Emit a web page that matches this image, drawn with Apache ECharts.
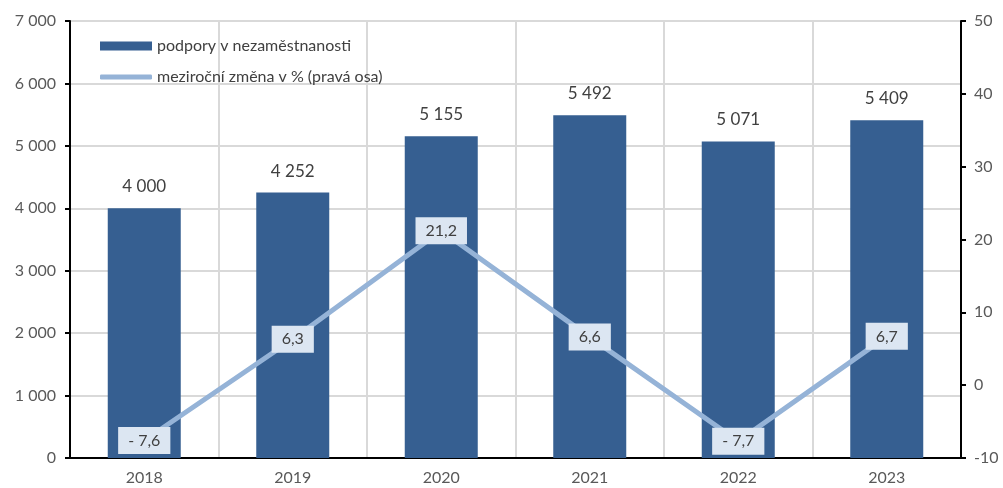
<!DOCTYPE html>
<html>
<head>
<meta charset="utf-8">
<script src="https://cdn.jsdelivr.net/npm/echarts@6/dist/echarts.min.js"></script>
<style>
  html, body { margin: 0; padding: 0; background: #fff; }
  #main { width: 1003px; height: 488px; }
</style>
</head>
<body>
<div id="main"></div>
<script>
const years = ['2018', '2019', '2020', '2021', '2022', '2023'];
const support = [4000, 4252, 5155, 5492, 5071, 5409];
const change = [-7.6, 6.3, 21.2, 6.6, -7.7, 6.7];
const barName = 'podpory v nezaměstnanosti';
const lineName = 'meziroční změna v % (pravá osa)';

const font = 'Lato, "Noto Sans", sans-serif';

const thousands = (v) => String(v).replace(/\B(?=(\d{3})+(?!\d))/g, ' ');
const pct = (v) => (v < 0 ? '- ' + String(-v) : String(v)).replace('.', ',');

const myChart = echarts.init(document.getElementById('main'));
myChart.setOption({
  animation: false,
  textStyle: { fontFamily: font },
  grid: { left: 70, right: 42, top: 21, bottom: 30 },
  legend: [
    {
      data: [{ name: barName, icon: 'rect' }],
      left: 95, top: 33,
      itemWidth: 52, itemHeight: 9, itemGap: 4,
      textStyle: { fontFamily: font, fontSize: 16, color: '#404040', padding: [0, 0, 0, 0] },
    },
    {
      data: [{ name: lineName, icon: 'roundRect' }],
      left: 95, top: 64,
      itemWidth: 52, itemHeight: 5,
      textStyle: { fontFamily: font, fontSize: 16, color: '#404040', padding: [0, 0, 0, 0] },
    },
  ],
  xAxis: {
    type: 'category',
    data: years,
    axisLine: { lineStyle: { color: '#000', width: 2 } },
    axisTick: { show: false },
    splitLine: { show: true, interval: 0, lineStyle: { color: '#d9d9d9', width: 2 } },
    axisLabel: { color: '#595959', fontSize: 16, margin: 12, fontFamily: font },
  },
  yAxis: [
    {
      type: 'value', min: 0, max: 7000, interval: 1000,
      axisLine: { show: true, lineStyle: { color: '#000', width: 2 } },
      axisTick: { show: true, length: 5, lineStyle: { color: '#000', width: 2 } },
      splitLine: { lineStyle: { color: '#d9d9d9', width: 2 } },
      axisLabel: { color: '#595959', fontSize: 16, margin: 14, formatter: thousands, fontFamily: font },
    },
    {
      type: 'value', min: -10, max: 50, interval: 10, position: 'right',
      axisLine: { show: true, lineStyle: { color: '#000', width: 2 } },
      axisTick: { show: true, length: 5, lineStyle: { color: '#000', width: 2 } },
      splitLine: { show: false },
      axisLabel: { color: '#595959', fontSize: 16, margin: 13, fontFamily: font },
    },
  ],
  series: [
    {
      name: barName,
      type: 'bar',
      data: support,
      barWidth: 73,
      itemStyle: { color: '#365f91' },
      label: {
        show: true, position: 'top', distance: 13,
        color: '#404040', fontSize: 17, fontFamily: font,
        formatter: (p) => thousands(p.value),
      },
    },
    {
      name: lineName,
      type: 'line',
      yAxisIndex: 1,
      data: change,
      symbol: 'circle',
      symbolSize: 0,
      lineStyle: { color: '#95b3d7', width: 5 },
      itemStyle: { color: '#95b3d7' },
      label: {
        show: true, position: 'inside',
        backgroundColor: '#dce6f2',
        padding: [6, 10, 5, 10],
        color: '#404040', fontSize: 16, fontFamily: font,
        formatter: (p) => pct(p.value),
      },
      z: 5,
    },
  ],
});
</script>
</body>
</html>
